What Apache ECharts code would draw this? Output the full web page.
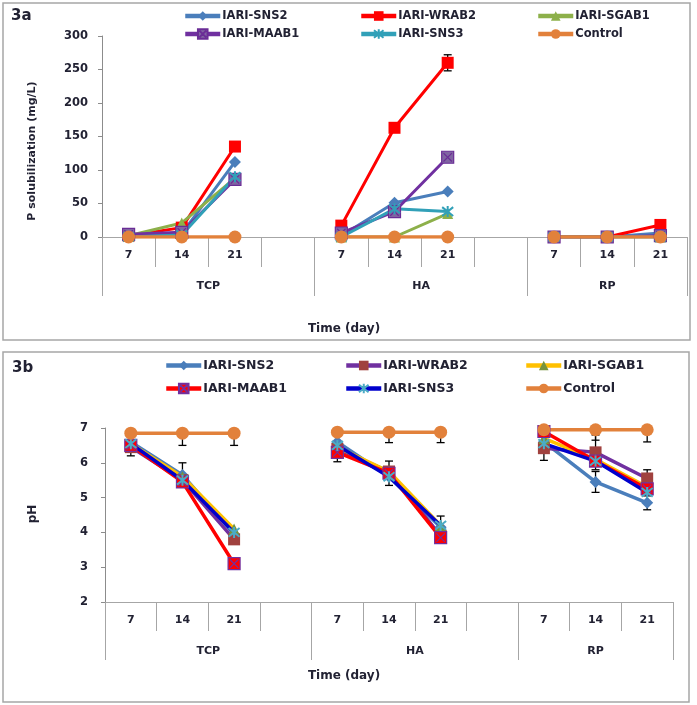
<!DOCTYPE html>
<html><head><meta charset="utf-8">
<script src="https://cdn.jsdelivr.net/npm/echarts@6/dist/echarts.min.js"></script>
<style>html,body{margin:0;padding:0;background:#fff}#c{width:697px;height:705px}</style>
</head><body><div id="c"></div>
<script>
// ---------- data ----------
const categories = ['7','14','21','','7','14','21','','7','14','21'];
const groupLabels = ['TCP','HA','RP'];
const seriesNames = ['IARI-SNS2','IARI-WRAB2','IARI-SGAB1','IARI-MAAB1','IARI-SNS3','Control'];

// 3a : P solubilization (mg/L)
const pSNS2    = [1, 5, 112, null, 2, 51, 68, null, 0, 0, 6];
const pWRAB2   = [2, 14, 135, null, 17, 163, 260, null, 0, 0, 18];
const pSGAB1   = [2, 21, 88, null, 0, 0, 35, null, 0, 0, 0];
const pMAAB1   = [4, 7, 86, null, 6, 38, 119, null, 0, 0, 2];
const pSNS3    = [0, 3, 90, null, 0, 42, 38, null, 0, 0, 0];
const pControl = [0, 0, 0, null, 0, 0, 0, null, 0, 0, 0];
const pErrWRAB2 = [0, 0, 0, null, 0, 0, 12, null, 0, 0, 0];
const pAxisMin = 0, pAxisMax = 300, pAxisStep = 50;

// 3b : pH
const hSNS2    = [6.6, 5.65, 3.95, null, 6.6, 5.6, 4.15, null, 6.6, 5.45, 4.85];
const hWRAB2   = [6.45, 5.5, 3.8, null, 6.4, 5.75, 3.9, null, 6.42, 6.3, 5.55];
const hSGAB1   = [6.55, 5.6, 4.1, null, 6.45, 5.75, 4.2, null, 6.7, 6.1, 5.3];
const hMAAB1   = [6.5, 5.45, 3.1, null, 6.3, 5.7, 3.85, null, 6.9, 6.05, 5.25];
const hSNS3    = [6.55, 5.5, 4.0, null, 6.5, 5.6, 4.2, null, 6.55, 6.05, 5.15];
const hControl = [6.85, 6.85, 6.85, null, 6.88, 6.88, 6.88, null, 6.95, 6.95, 6.95];
const hErrSNS2  = [0, 0.35, 0, null, 0, 0, 0, null, 0, 0.3, 0.2];
const hErrWRAB2 = [0, 0, 0.1, null, 0, 0, 0, null, 0.35, 0.5, 0.25];
const hErrMAAB1 = [0.3, 0, 0, null, 0.27, 0.35, 0.12, null, 0, 0, 0];
const hErrSNS3  = [0, 0, 0, null, 0, 0, 0.27, null, 0, 0, 0];
const hErrControlMinus = [0, 0.35, 0.35, null, 0, 0.3, 0.3, null, 0, 0.3, 0.35];
const hAxisMin = 2, hAxisMax = 7, hAxisStep = 1;

// ---------- helpers ----------
const FONT = 'DejaVu Sans';
const TXT = '#222233';
const AX = '#A6A6A6';
const groupStarts = categories.map((c, i) => c === categories[0] ? i : -1).filter(i => i >= 0);
const groupBounds = groupStarts.concat([categories.length]);
const groupCenters = groupStarts.map((s, k) => (s + groupBounds[k + 1]) / 2);

const SQX = 'path://M0,0H10V10H0Z M1.5,1.5L8.5,8.5 M8.5,1.5L1.5,8.5';
const STAR = 'path://M1,1L9,9 M9,1L1,9 M5,0L5,10';
const SUF = ' (pH)';

function xAxes(gi, shortLen, longLen) {
  const lab = {fontFamily: FONT, fontWeight: 'bold', fontSize: 11, color: TXT};
  return [
    {type: 'category', gridIndex: gi, position: 'bottom', data: categories, boundaryGap: true,
     axisLine: {onZero: false, lineStyle: {color: AX, width: 1}},
     axisTick: {show: true, interval: 0, length: shortLen, lineStyle: {color: AX}},
     axisLabel: Object.assign({interval: 0, margin: 13}, lab)},
    {type: 'value', gridIndex: gi, position: 'bottom', min: 0, max: categories.length,
     axisLine: {show: false}, splitLine: {show: false},
     axisTick: {show: true, customValues: groupBounds, length: longLen, lineStyle: {color: AX}},
     axisLabel: Object.assign({customValues: groupCenters, margin: 44,
       formatter: v => { const k = groupCenters.indexOf(v); return k >= 0 ? groupLabels[k] : ''; }}, lab)}
  ];
}
function yAxis(gi, min, max, step, margin) {
  return {type: 'value', gridIndex: gi, min: min, max: max, interval: step,
    axisLine: {show: true, lineStyle: {color: '#8C8C8C'}},
    axisTick: {show: true, length: 4, lineStyle: {color: '#8C8C8C'}},
    splitLine: {show: false},
    axisLabel: {margin: margin, fontFamily: FONT, fontWeight: 'bold', fontSize: 11.5, color: TXT}};
}
function line(name, data, lineColor, sym, symSize, fill, border, bw, xi, yi, lw) {
  return {type: 'line', name: name, data: data, xAxisIndex: xi, yAxisIndex: yi,
    symbol: sym, symbolSize: symSize, showSymbol: true, connectNulls: false,
    lineStyle: {color: lineColor, width: lw},
    itemStyle: {color: fill, borderColor: border, borderWidth: bw},
    emphasis: {disabled: true}, animation: false};
}
function errItems(vals, plus, minus) {
  const out = [];
  vals.forEach((v, i) => {
    if (v == null) return;
    const p = plus ? plus[i] : 0, m = minus ? minus[i] : 0;
    if ((p || 0) > 0 || (m || 0) > 0) out.push([i, v, p || 0, m || 0]);
  });
  return out;
}
function errSeries(xi, yi, items) {
  return {type: 'custom', xAxisIndex: xi, yAxisIndex: yi, data: items, silent: true, animation: false,
    encode: {x: 0, y: 1}, z: 3,
    renderItem: function (params, api) {
      const x = api.value(0), y = api.value(1), p = api.value(2), m = api.value(3);
      const hi = api.coord([x, y + p]), lo = api.coord([x, y - m]);
      const st = {stroke: '#000', lineWidth: 1.3};
      const cap = 4;
      const ch = [{type: 'line', shape: {x1: hi[0], y1: hi[1], x2: lo[0], y2: lo[1]}, style: st}];
      if (p > 0) ch.push({type: 'line', shape: {x1: hi[0] - cap, y1: hi[1], x2: hi[0] + cap, y2: hi[1]}, style: st});
      if (m > 0) ch.push({type: 'line', shape: {x1: lo[0] - cap, y1: lo[1], x2: lo[0] + cap, y2: lo[1]}, style: st});
      return {type: 'group', children: ch};
    }};
}
function legendItem(name, x, yc, size) {
  return {data: [name], left: x, top: yc - 6, padding: 0, itemWidth: 35, itemHeight: 12,
    selectedMode: false, formatter: n => n.replace(SUF, ''),
    lineStyle: {width: 4.5},
    textStyle: {fontFamily: FONT, fontWeight: 'bold', fontSize: size, color: TXT, padding: [0, 0, 0, -3]}};
}

// ---------- series ----------
const series = [
  line(seriesNames[0], pSNS2, '#4A7EBB', 'diamond', 12, '#4A7EBB', '#4A7EBB', 0, 0, 0, 3),
  line(seriesNames[1], pWRAB2, '#FF0000', 'rect', 12, '#FF0000', '#FF0000', 0, 0, 0, 3),
  line(seriesNames[2], pSGAB1, '#8DB04A', 'triangle', 11, '#8DB04A', '#8DB04A', 0, 0, 0, 3),
  line(seriesNames[3], pMAAB1, '#7030A0', SQX, 12, '#8064A2', '#6A2C96', 1.2, 0, 0, 3),
  line(seriesNames[4], pSNS3, '#31A0B8', STAR, 11, '#31A0B8', '#31A0B8', 2, 0, 0, 3),
  line(seriesNames[5], pControl, '#E2813B', 'circle', 13, '#E2813B', '#E2813B', 0, 0, 0, 3.5),
  errSeries(0, 0, errItems(pWRAB2, pErrWRAB2, pErrWRAB2)),

  line(seriesNames[0] + SUF, hSNS2, '#4A7EBB', 'diamond', 12, '#4A7EBB', '#4A7EBB', 0, 2, 1, 3.5),
  line(seriesNames[1] + SUF, hWRAB2, '#7030A0', 'rect', 12, '#A0413E', '#A0413E', 0, 2, 1, 3.5),
  line(seriesNames[2] + SUF, hSGAB1, '#FFC000', 'triangle', 11, '#77933C', '#77933C', 0, 2, 1, 3.5),
  line(seriesNames[3] + SUF, hMAAB1, '#FF0000', SQX, 12, '#FF0000', '#7030A0', 1.2, 2, 1, 3.5),
  line(seriesNames[4] + SUF, hSNS3, '#0000CC', STAR, 11, '#4BACC6', '#4BACC6', 2, 2, 1, 3.5),
  line(seriesNames[5] + SUF, hControl, '#E2813B', 'circle', 13, '#E2813B', '#E2813B', 0, 2, 1, 3.5),
  errSeries(2, 1, errItems(hSNS2, hErrSNS2, hErrSNS2)),
  errSeries(2, 1, errItems(hWRAB2, hErrWRAB2, hErrWRAB2)),
  errSeries(2, 1, errItems(hMAAB1, hErrMAAB1, hErrMAAB1)),
  errSeries(2, 1, errItems(hSNS3, hErrSNS3, hErrSNS3)),
  errSeries(2, 1, errItems(hControl, null, hErrControlMinus))
];

const topCols = [183, 359, 536], topRows = [16, 34];
const botCols = [164, 344, 524], botRows = [365, 388];
const legends = [];
seriesNames.forEach((n, i) => {
  legends.push(legendItem(n, topCols[i % 3], topRows[Math.floor(i / 3)], 11.5));
  legends.push(legendItem(n + SUF, botCols[i % 3], botRows[Math.floor(i / 3)], 12.5));
});

const chart = echarts.init(document.getElementById('c'), null, {renderer: 'canvas'});
chart.setOption({
  animation: false,
  backgroundColor: '#fff',
  grid: [
    {left: 102, top: 36, width: 585, height: 201, containLabel: false},
    {left: 105, top: 428, width: 568, height: 174, containLabel: false}
  ],
  xAxis: xAxes(0, 30, 59).concat(xAxes(1, 29, 58)),
  yAxis: [yAxis(0, pAxisMin, pAxisMax, pAxisStep, 14), yAxis(1, hAxisMin, hAxisMax, hAxisStep, 17)],
  legend: legends,
  series: series,
  graphic: [
    {type: 'rect', shape: {x: 3, y: 3, width: 687, height: 337}, style: {fill: 'none', stroke: '#A6A6A6', lineWidth: 1.5}, silent: true},
    {type: 'rect', shape: {x: 3, y: 352, width: 686, height: 350}, style: {fill: 'none', stroke: '#A6A6A6', lineWidth: 1.5}, silent: true},
    {type: 'text', left: 11, top: 9, style: {text: '3a', font: 'bold 15px "DejaVu Sans"', fill: TXT}},
    {type: 'text', left: 12, top: 361, style: {text: '3b', font: 'bold 15px "DejaVu Sans"', fill: TXT}},
    {type: 'text', x: 344, y: 329, style: {text: 'Time (day)', font: 'bold 12px "DejaVu Sans"', fill: TXT, align: 'center', verticalAlign: 'middle'}},
    {type: 'text', x: 344, y: 676, style: {text: 'Time (day)', font: 'bold 12px "DejaVu Sans"', fill: TXT, align: 'center', verticalAlign: 'middle'}},
    {type: 'text', x: 32, y: 151, rotation: Math.PI / 2, style: {text: 'P solubilization (mg/L)', font: 'bold 11px "DejaVu Sans"', fill: TXT, align: 'center', verticalAlign: 'middle'}},
    {type: 'text', x: 33, y: 514, rotation: Math.PI / 2, style: {text: 'pH', font: 'bold 12px "DejaVu Sans"', fill: TXT, align: 'center', verticalAlign: 'middle'}}
  ]
});
</script>
</body></html>
